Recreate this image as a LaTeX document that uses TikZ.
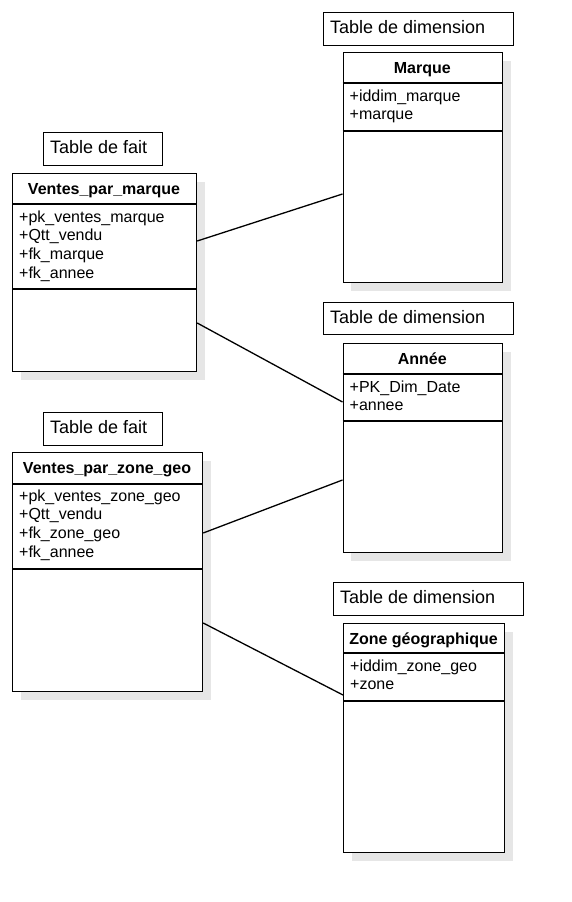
\documentclass[tikz,border=0pt]{standalone}
\usepackage{fontspec}
\setmainfont{Liberation Sans}
\usetikzlibrary{shadows}
\definecolor{shadowgray}{HTML}{E6E6E6}
\tikzset{
  clsbox/.style={draw, line width=1.2pt, fill=white, anchor=north west, inner sep=0pt,
    general shadow={fill=shadowgray, shadow xshift=8pt, shadow yshift=-8pt}},
  lblbox/.style={draw, line width=1.2pt, fill=white, anchor=north west, inner sep=0pt},
  lbltext/.style={anchor=base west, inner sep=0pt, font=\fontsize{18}{21}\selectfont},
  hdrtext/.style={anchor=base, inner sep=0pt, font=\fontsize{16}{19}\selectfont\bfseries},
  attrtext/.style={anchor=base west, inner sep=0pt, font=\fontsize{16}{19}\selectfont},
  sepline/.style={line width=1.2pt},
  link/.style={line width=1.3pt},
}
\begin{document}
\begin{tikzpicture}[x=1pt,y=-1pt]
\useasboundingbox[fill=white] (0,0) rectangle (572,902);

% ---------- Ventes_par_marque ----------
\node[lblbox, minimum width=119pt, minimum height=33pt] (lf1) at (43,132) {};
\node[lbltext] (lf1t) at (50,153) {Table de fait};
\node[clsbox, minimum width=184pt, minimum height=198pt] (vm) at (12,173) {};
\draw[sepline] ([yshift=-31pt]vm.north west) -- ([yshift=-31pt]vm.north east);
\draw[sepline] ([yshift=-116pt]vm.north west) -- ([yshift=-116pt]vm.north east);
\node[hdrtext] (vmh) at (104,194) {Ventes\_par\_marque};
\node[attrtext] (vm1) at (19,222) {+pk\_ventes\_marque};
\node[attrtext] (vm2) at (19,240.7) {+Qtt\_vendu};
\node[attrtext] (vm3) at (19,259.4) {+fk\_marque};
\node[attrtext] (vm4) at (19,278.1) {+fk\_annee};

% ---------- Ventes_par_zone_geo ----------
\node[lblbox, minimum width=119pt, minimum height=33pt] (lf2) at (43,412) {};
\node[lbltext] (lf2t) at (50,433) {Table de fait};
\node[clsbox, minimum width=190pt, minimum height=239pt] (vz) at (12,452) {};
\draw[sepline] ([yshift=-32pt]vz.north west) -- ([yshift=-32pt]vz.north east);
\draw[sepline] ([yshift=-117pt]vz.north west) -- ([yshift=-117pt]vz.north east);
\node[hdrtext] (vzh) at (107,473) {Ventes\_par\_zone\_geo};
\node[attrtext] (vz1) at (19,501) {+pk\_ventes\_zone\_geo};
\node[attrtext] (vz2) at (19,519.7) {+Qtt\_vendu};
\node[attrtext] (vz3) at (19,538.4) {+fk\_zone\_geo};
\node[attrtext] (vz4) at (19,557.1) {+fk\_annee};

% ---------- Marque ----------
\node[lblbox, minimum width=190pt, minimum height=33pt] (ld1) at (323,12) {};
\node[lbltext] (ld1t) at (330,33) {Table de dimension};
\node[clsbox, minimum width=159.5pt, minimum height=230pt] (ma) at (342.5,52) {};
\draw[sepline] ([yshift=-31pt]ma.north west) -- ([yshift=-31pt]ma.north east);
\draw[sepline] ([yshift=-79pt]ma.north west) -- ([yshift=-79pt]ma.north east);
\node[hdrtext] (mah) at (422.25,73) {Marque};
\node[attrtext] (ma1) at (349.5,101) {+iddim\_marque};
\node[attrtext] (ma2) at (349.5,119.7) {+marque};

% ---------- Annee ----------
\node[lblbox, minimum width=190pt, minimum height=32pt] (ld2) at (323,302) {};
\node[lbltext] (ld2t) at (330,323) {Table de dimension};
\node[clsbox, minimum width=159.5pt, minimum height=209pt] (an) at (342.5,343) {};
\draw[sepline] ([yshift=-31pt]an.north west) -- ([yshift=-31pt]an.north east);
\draw[sepline] ([yshift=-78pt]an.north west) -- ([yshift=-78pt]an.north east);
\node[hdrtext] (anh) at (422.25,364) {Année};
\node[attrtext] (an1) at (349.5,392) {+PK\_Dim\_Date};
\node[attrtext] (an2) at (349.5,410.7) {+annee};

% ---------- Zone geographique ----------
\node[lblbox, minimum width=190pt, minimum height=33pt] (ld3) at (333,582) {};
\node[lbltext] (ld3t) at (340,603) {Table de dimension};
\node[clsbox, minimum width=161pt, minimum height=229pt] (zg) at (343,623) {};
\draw[sepline] ([yshift=-30pt]zg.north west) -- ([yshift=-30pt]zg.north east);
\draw[sepline] ([yshift=-78pt]zg.north west) -- ([yshift=-78pt]zg.north east);
\node[hdrtext] (zgh) at (423.5,644) {Zone géographique};
\node[attrtext] (zg1) at (350,671) {+iddim\_zone\_geo};
\node[attrtext] (zg2) at (350,689.7) {+zone};

% ---------- Connectors ----------
\draw[link] ([yshift=-68pt]vm.north east) -- ([yshift=-142pt]ma.north west);
\draw[link] ([yshift=-150pt]vm.north east) -- ([yshift=-59pt]an.north west);
\draw[link] ([yshift=-81pt]vz.north east) -- ([yshift=-137pt]an.north west);
\draw[link] ([yshift=-171pt]vz.north east) -- ([yshift=-72pt]zg.north west);
\end{tikzpicture}
\end{document}
